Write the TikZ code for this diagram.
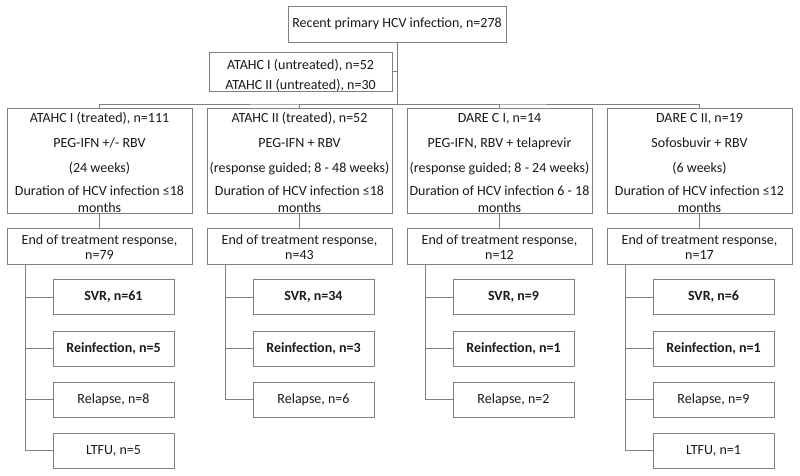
\documentclass[tikz,border=0pt]{standalone}
\usepackage{fontspec}
\setmainfont{Carlito}
\definecolor{ln}{HTML}{808080}
\definecolor{tx}{HTML}{1A1A1A}
\newcommand{\upstrut}[1]{\rule{0pt}{#1}}
\begin{document}
\begin{tikzpicture}[x=1pt,y=-1pt,
  every node/.style={text=tx, font=\fontsize{14}{17}\selectfont},
  box/.style={draw=ln, line width=0.8pt, inner sep=0pt, align=center},
  trt/.style={box, minimum width=185pt, minimum height=105pt},
  resp/.style={box, minimum width=185pt, minimum height=36pt},
  sub/.style={box, minimum width=121pt, minimum height=35pt},
  bsub/.style={sub, font=\fontsize{14}{17}\selectfont\bfseries},
  line/.style={draw=ln, line width=0.8pt}]
\useasboundingbox[fill=white] (0,0) rectangle (800,476);

\node[box, minimum width=218pt, minimum height=36pt] (top) at (397,24) {Recent primary HCV infection, n=278};
\node[box, minimum width=183pt, minimum height=39pt] (untr) at (300.5,71.5) {\upstrut{17pt}ATAHC I (untreated), n=52\\[3pt]ATAHC II (untreated), n=30};

% treatment boxes
\node[trt] (c1) at (99.5,160.5) {\upstrut{14.5pt}ATAHC I (treated), n=111\\[8pt]PEG-IFN +/- RBV\\[8pt](24 weeks)\\[6pt]Duration of HCV infection ≤18\\months};
\node[trt] (c2) at (299.5,160.5) {\upstrut{14.5pt}ATAHC II (treated), n=52\\[8pt]PEG-IFN + RBV\\[8pt](response guided; 8 - 48 weeks)\\[6pt]Duration of HCV infection ≤18\\months};
\node[trt] (c3) at (499.5,160.5) {\upstrut{14.5pt}DARE C I, n=14\\[8pt]PEG-IFN, RBV + telaprevir\\[8pt](response guided; 8 - 24 weeks)\\[6pt]Duration of HCV infection 6 - 18\\months};
\node[trt] (c4) at (699.5,160.5) {\upstrut{14.5pt}DARE C II, n=19\\[8pt]Sofosbuvir + RBV\\[8pt](6 weeks)\\[6pt]Duration of HCV infection ≤12\\months};

% response boxes
\node[resp] (r1) at (99.5,246) {\upstrut{12pt}End of treatment response,\\[-2pt]n=79};
\node[resp] (r2) at (299.5,246) {\upstrut{12pt}End of treatment response,\\[-2pt]n=43};
\node[resp] (r3) at (499.5,246) {\upstrut{12pt}End of treatment response,\\[-2pt]n=12};
\node[resp] (r4) at (699.5,246) {\upstrut{12pt}End of treatment response,\\[-2pt]n=17};

% outcome boxes
\node[bsub] (svr1) at (113.5,297) {SVR, n=61};
\node[bsub] (rei1) at (113.5,348.5) {Reinfection, n=5};
\node[sub] (rel1) at (113.5,399.5) {Relapse, n=8};
\node[sub] (ltf1) at (113.5,450.5) {LTFU, n=5};

\node[bsub] (svr2) at (313.5,297) {SVR, n=34};
\node[bsub] (rei2) at (313.5,348.5) {Reinfection, n=3};
\node[sub] (rel2) at (313.5,399.5) {Relapse, n=6};

\node[bsub] (svr3) at (513.5,297) {SVR, n=9};
\node[bsub] (rei3) at (513.5,348.5) {Reinfection, n=1};
\node[sub] (rel3) at (513.5,399.5) {Relapse, n=2};

\node[bsub] (svr4) at (713.5,297) {SVR, n=6};
\node[bsub] (rei4) at (713.5,348.5) {Reinfection, n=1};
\node[sub] (rel4) at (713.5,399.5) {Relapse, n=9};
\node[sub] (ltf4) at (713.5,450.5) {LTFU, n=1};

% connectors
\coordinate (bus) at (397,104);
\draw[line] (top.south) -- (bus);
\draw[line] (untr.east) -- (untr.east -| bus);
\draw[line] (c1.north) |- (bus) -| (c4.north);
\draw[line] (c2.north) |- (bus);
\draw[line] (c3.north) |- (bus);
\foreach \i in {1,2,3,4} {
  \draw[line] (c\i.south) -- (r\i.north);
  \coordinate (s\i) at ([xshift=19pt]r\i.south west);
  \draw[line] (s\i) |- (svr\i.west);
  \draw[line] (s\i) |- (rei\i.west);
  \draw[line] (s\i) |- (rel\i.west);
}
\draw[line] (s1) |- (ltf1.west);
\draw[line] (s4) |- (ltf4.west);
\end{tikzpicture}
\end{document}
